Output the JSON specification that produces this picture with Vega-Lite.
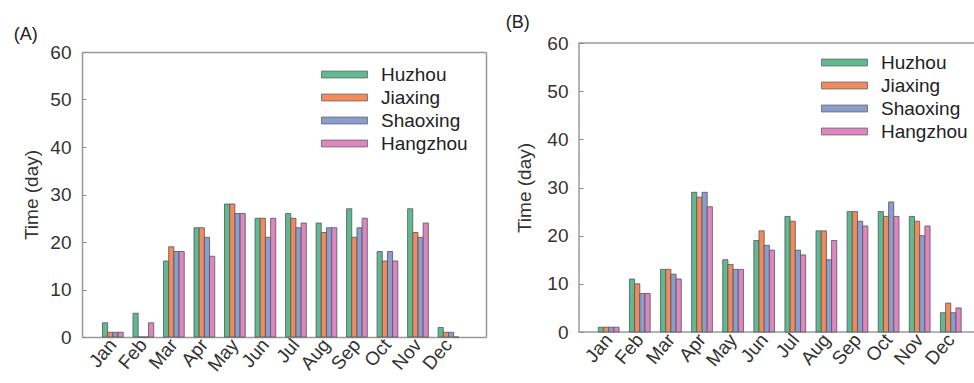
{
  "$schema": "https://vega.github.io/schema/vega-lite/v6.json",
  "padding": {"left": 13, "top": 13, "right": 0, "bottom": 0},
  "background": "white",
  "datasets": {
    "a": [
      {"m":"Jan","c":"Huzhou","v":3},{"m":"Jan","c":"Jiaxing","v":1},{"m":"Jan","c":"Shaoxing","v":1},{"m":"Jan","c":"Hangzhou","v":1},
      {"m":"Feb","c":"Huzhou","v":5},{"m":"Feb","c":"Jiaxing","v":0},{"m":"Feb","c":"Shaoxing","v":0},{"m":"Feb","c":"Hangzhou","v":3},
      {"m":"Mar","c":"Huzhou","v":16},{"m":"Mar","c":"Jiaxing","v":19},{"m":"Mar","c":"Shaoxing","v":18},{"m":"Mar","c":"Hangzhou","v":18},
      {"m":"Apr","c":"Huzhou","v":23},{"m":"Apr","c":"Jiaxing","v":23},{"m":"Apr","c":"Shaoxing","v":21},{"m":"Apr","c":"Hangzhou","v":17},
      {"m":"May","c":"Huzhou","v":28},{"m":"May","c":"Jiaxing","v":28},{"m":"May","c":"Shaoxing","v":26},{"m":"May","c":"Hangzhou","v":26},
      {"m":"Jun","c":"Huzhou","v":25},{"m":"Jun","c":"Jiaxing","v":25},{"m":"Jun","c":"Shaoxing","v":21},{"m":"Jun","c":"Hangzhou","v":25},
      {"m":"Jul","c":"Huzhou","v":26},{"m":"Jul","c":"Jiaxing","v":25},{"m":"Jul","c":"Shaoxing","v":23},{"m":"Jul","c":"Hangzhou","v":24},
      {"m":"Aug","c":"Huzhou","v":24},{"m":"Aug","c":"Jiaxing","v":22},{"m":"Aug","c":"Shaoxing","v":23},{"m":"Aug","c":"Hangzhou","v":23},
      {"m":"Sep","c":"Huzhou","v":27},{"m":"Sep","c":"Jiaxing","v":21},{"m":"Sep","c":"Shaoxing","v":23},{"m":"Sep","c":"Hangzhou","v":25},
      {"m":"Oct","c":"Huzhou","v":18},{"m":"Oct","c":"Jiaxing","v":16},{"m":"Oct","c":"Shaoxing","v":18},{"m":"Oct","c":"Hangzhou","v":16},
      {"m":"Nov","c":"Huzhou","v":27},{"m":"Nov","c":"Jiaxing","v":22},{"m":"Nov","c":"Shaoxing","v":21},{"m":"Nov","c":"Hangzhou","v":24},
      {"m":"Dec","c":"Huzhou","v":2},{"m":"Dec","c":"Jiaxing","v":1},{"m":"Dec","c":"Shaoxing","v":1},{"m":"Dec","c":"Hangzhou","v":0}
    ],
    "b": [
      {"m":"Jan","c":"Huzhou","v":1},{"m":"Jan","c":"Jiaxing","v":1},{"m":"Jan","c":"Shaoxing","v":1},{"m":"Jan","c":"Hangzhou","v":1},
      {"m":"Feb","c":"Huzhou","v":11},{"m":"Feb","c":"Jiaxing","v":10},{"m":"Feb","c":"Shaoxing","v":8},{"m":"Feb","c":"Hangzhou","v":8},
      {"m":"Mar","c":"Huzhou","v":13},{"m":"Mar","c":"Jiaxing","v":13},{"m":"Mar","c":"Shaoxing","v":12},{"m":"Mar","c":"Hangzhou","v":11},
      {"m":"Apr","c":"Huzhou","v":29},{"m":"Apr","c":"Jiaxing","v":28},{"m":"Apr","c":"Shaoxing","v":29},{"m":"Apr","c":"Hangzhou","v":26},
      {"m":"May","c":"Huzhou","v":15},{"m":"May","c":"Jiaxing","v":14},{"m":"May","c":"Shaoxing","v":13},{"m":"May","c":"Hangzhou","v":13},
      {"m":"Jun","c":"Huzhou","v":19},{"m":"Jun","c":"Jiaxing","v":21},{"m":"Jun","c":"Shaoxing","v":18},{"m":"Jun","c":"Hangzhou","v":17},
      {"m":"Jul","c":"Huzhou","v":24},{"m":"Jul","c":"Jiaxing","v":23},{"m":"Jul","c":"Shaoxing","v":17},{"m":"Jul","c":"Hangzhou","v":16},
      {"m":"Aug","c":"Huzhou","v":21},{"m":"Aug","c":"Jiaxing","v":21},{"m":"Aug","c":"Shaoxing","v":15},{"m":"Aug","c":"Hangzhou","v":19},
      {"m":"Sep","c":"Huzhou","v":25},{"m":"Sep","c":"Jiaxing","v":25},{"m":"Sep","c":"Shaoxing","v":23},{"m":"Sep","c":"Hangzhou","v":22},
      {"m":"Oct","c":"Huzhou","v":25},{"m":"Oct","c":"Jiaxing","v":24},{"m":"Oct","c":"Shaoxing","v":27},{"m":"Oct","c":"Hangzhou","v":24},
      {"m":"Nov","c":"Huzhou","v":24},{"m":"Nov","c":"Jiaxing","v":23},{"m":"Nov","c":"Shaoxing","v":20},{"m":"Nov","c":"Hangzhou","v":22},
      {"m":"Dec","c":"Huzhou","v":4},{"m":"Dec","c":"Jiaxing","v":6},{"m":"Dec","c":"Shaoxing","v":4},{"m":"Dec","c":"Hangzhou","v":5}
    ]
  },
  "spacing": 19,
  "resolve": {"legend": {"color": "independent"}, "scale": {"x": "independent", "y": "independent"}},
  "hconcat": [
    {
      "width": 404,
      "height": 294,
      "title": {"text": "(A)", "anchor": "start", "frame": "bounds", "dx": -9, "offset": -1},
      "data": {"name": "a"},
      "view": {"stroke": null},
      "resolve": {"axis": {"x": "independent", "y": "independent"}},
      "layer": [
        {
          "mark": {"type": "bar", "stroke": "#555", "strokeWidth": 0.8},
          "encoding": {
            "x": {"field": "m", "type": "nominal", "sort": ["Jan","Feb","Mar","Apr","May","Jun","Jul","Aug","Sep","Oct","Nov","Dec"],
                  "scale": {"paddingInner": 0.32, "paddingOuter": 0.78, "align": 0.43},
                  "axis": {"title": null, "domain": true, "domainColor": "#999", "domainWidth": 1.5}},
            "xOffset": {"field": "c", "type": "nominal", "sort": ["Huzhou","Jiaxing","Shaoxing","Hangzhou"]},
            "y": {"field": "v", "type": "quantitative", "scale": {"domain": [0, 60], "range": [294, 9]},
                  "axis": {"title": "Time (day)", "values": [0,10,20,30,40,50,60], "domain": true, "domainColor": "#999", "domainWidth": 1.5, "titlePadding": 8}},
            "color": {"field": "c", "type": "nominal", "sort": ["Huzhou","Jiaxing","Shaoxing","Hangzhou"],
                      "scale": {"domain": ["Huzhou","Jiaxing","Shaoxing","Hangzhou"], "range": ["#5fba92","#f28a5e","#8a9dcc","#de86c0"]},
                      "legend": {"title": null, "orient": "none", "legendX": 253, "legendY": 22}}
          }
        },
        {
          "mark": {"type": "bar", "opacity": 0, "strokeOpacity": 0},
          "encoding": {
            "x": {"field": "m", "type": "nominal", "sort": ["Jan","Feb","Mar","Apr","May","Jun","Jul","Aug","Sep","Oct","Nov","Dec"],
                  "axis": {"orient": "top", "offset": -9, "title": null, "labels": false, "ticks": false, "domain": true, "domainColor": "#999", "domainWidth": 1.5}},
            "y": {"field": "v", "type": "quantitative", "stack": null,
                  "axis": {"orient": "right", "title": null, "labels": false, "ticks": false, "domain": true, "domainColor": "#999", "domainWidth": 1.5}}
          }
        }
      ]
    },
    {
      "width": 396,
      "height": 289,
      "title": {"text": "(B)", "anchor": "start", "frame": "bounds", "dx": -10, "offset": 2},
      "data": {"name": "b"},
      "mark": {"type": "bar", "stroke": "#555", "strokeWidth": 0.8},
      "encoding": {
        "x": {"field": "m", "type": "nominal", "sort": ["Jan","Feb","Mar","Apr","May","Jun","Jul","Aug","Sep","Oct","Nov","Dec"],
              "scale": {"paddingInner": 0.32, "paddingOuter": 0.527, "align": 0.59}, "axis": {"title": null}},
        "xOffset": {"field": "c", "type": "nominal", "sort": ["Huzhou","Jiaxing","Shaoxing","Hangzhou"]},
        "y": {"field": "v", "type": "quantitative", "scale": {"domain": [0, 60]}, "axis": {"title": "Time (day)", "values": [0,10,20,30,40,50,60], "titlePadding": 12}},
        "color": {"field": "c", "type": "nominal", "sort": ["Huzhou","Jiaxing","Shaoxing","Hangzhou"],
                  "scale": {"domain": ["Huzhou","Jiaxing","Shaoxing","Hangzhou"], "range": ["#5fba92","#f28a5e","#8a9dcc","#de86c0"]},
                  "legend": {"title": null, "orient": "none", "legendX": 256, "legendY": 10}}
      }
    }
  ],
  "config": {
    "font": "Liberation Sans",
    "view": {"stroke": "#999", "strokeWidth": 1.5},
    "title": {"fontSize": 18, "fontWeight": "normal", "color": "#222"},
    "axisY": {"grid": false, "domain": false, "tickSize": -4, "tickColor": "#888", "labelFontSize": 19, "labelColor": "#333", "labelPadding": 15,
              "titleFontSize": 19, "titleFontWeight": "normal", "titleColor": "#333"},
    "axisX": {"grid": false, "domain": false, "ticks": false, "labelAngle": -50, "labelAlign": "right", "labelBaseline": "middle",
              "labelFontSize": 19, "labelColor": "#333", "labelPadding": 4},
    "legend": {"symbolType": "M-3,-0.45H3V0.45H-3Z", "symbolSize": 235, "symbolStrokeColor": "#666", "symbolStrokeWidth": 0.8,
               "labelFontSize": 19, "labelColor": "#222", "labelOffset": 27, "rowPadding": 3, "padding": 0}
  }
}
